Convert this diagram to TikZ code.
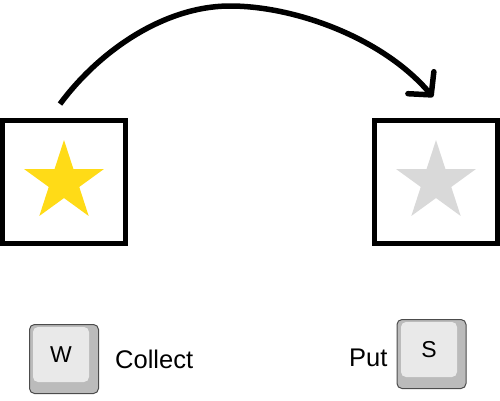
\documentclass[tikz,border=0pt]{standalone}
\usepackage{fontspec}
\setmainfont{Liberation Sans}
\usetikzlibrary{arrows.meta,shapes.geometric}
\definecolor{starYellow}{HTML}{FFDB17}
\definecolor{starGrey}{HTML}{D9D9D9}
\definecolor{keyBody}{HTML}{BBBBBB}
\definecolor{keyFace}{HTML}{E9E9E9}
\tikzset{
  cell/.style={draw=black,line width=5pt,minimum size=123pt,inner sep=0pt},
  bigstar/.style={star,star points=5,star point ratio=2.618,minimum size=84pt,inner sep=0pt,draw=none},
  keycap/.style={draw=black!70,line width=1pt,fill=keyBody,rounded corners=5pt,minimum size=69pt,inner sep=0pt},
  keyface/.style={fill=keyFace,rounded corners=5pt,minimum width=56pt,minimum height=55pt,inner sep=0pt,font=\fontsize{23}{23}\selectfont},
  keylabel/.style={inner sep=0pt,font=\fontsize{25.5}{25.5}\selectfont}
}
\begin{document}
\begin{tikzpicture}[x=1pt,y=-1pt]
  \useasboundingbox (0,0) rectangle (500,400);
  \node[cell] (from) at (64,182) {};
  \node[cell] (to) at (436,182) {};
  \node[bigstar,fill=starYellow] (star1) at (64,182) {};
  \node[bigstar,fill=starGrey] (star2) at (436,182) {};
  \coordinate (start) at (60,104);
  \coordinate (apex) at (230,6);
  \coordinate (end) at (433,97);
  \draw[line width=5.5pt,-{Straight Barb[length=16pt,width=34pt,round]}] (start) .. controls (100,50) and (165,6) .. (apex) .. controls (295,6) and (383,38) .. (end);
  \node[keycap] (wcap) at (64,359) {};
  \node[keyface] (wkey) at (61,354.5) {W};
  \node[keycap] (scap) at (431.5,354) {};
  \node[keyface] (skey) at (429,349.5) {S};
  \node[keylabel,anchor=base west] (collect) at (115,368) {Collect};
  \node[keylabel,anchor=base west] (put) at (349,366) {Put};
\end{tikzpicture}
\end{document}
